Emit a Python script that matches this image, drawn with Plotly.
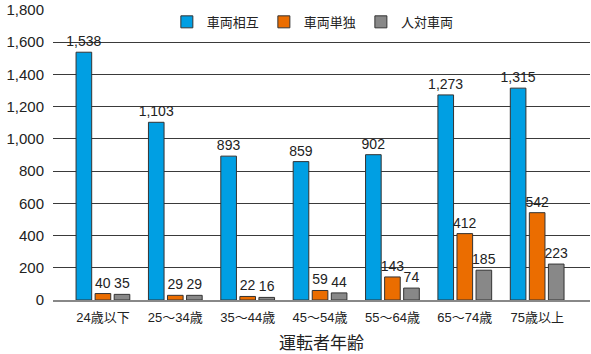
import plotly.graph_objects as go

categories = ["24歳以下", "25～34歳", "35～44歳", "45～54歳", "55～64歳", "65～74歳", "75歳以上"]
series_names = ["車両相互", "車両単独", "人対車両"]
mutual = [1538, 1103, 893, 859, 902, 1273, 1315]
single = [40, 29, 22, 59, 143, 412, 542]
pedestrian = [35, 29, 16, 44, 74, 185, 223]
colors = ["#009FE3", "#EB6D00", "#888888"]
y_ticks = [0, 200, 400, 600, 800, 1000, 1200, 1400, 1600, 1800]

FONT = "Liberation Sans, Arial, Noto Sans CJK JP"

fig = go.Figure()
for name, vals, col in zip(series_names, [mutual, single, pedestrian], colors):
    fig.add_trace(go.Bar(
        x=categories, y=vals, name=name,
        marker=dict(color=col, line=dict(color="#333333", width=1)),
        text=[f"{v:,}" for v in vals], textposition="outside",
        textfont=dict(size=14, color="#222222", family=FONT),
        constraintext="none",
        cliponaxis=False,
    ))

fig.update_layout(
    width=591, height=354,
    margin=dict(l=53, r=1, t=10, b=54),
    paper_bgcolor="white", plot_bgcolor="white",
    barmode="group", bargap=0.21, bargroupgap=0.18,
    font=dict(family=FONT, color="#222222"),
    showlegend=True,
    legend=dict(orientation="h", x=0.212, xanchor="left", y=0.959, yanchor="middle",
                font=dict(size=13, family="Noto Sans CJK JP"), bgcolor="rgba(0,0,0,0)",
                itemwidth=30, traceorder="normal"),
    xaxis=dict(range=[-0.69, 6.73], tickfont=dict(size=13, family="Liberation Sans, Noto Sans CJK JP"),
               showline=True, linecolor="#888888", linewidth=2, ticks="",
               ticklabelstandoff=4,
               title=dict(text="運転者年齢", font=dict(size=17, family="Noto Sans CJK JP"), standoff=16)),
    yaxis=dict(range=[0, 1800], tickvals=y_ticks, tickformat=",",
               tickfont=dict(size=15, family=FONT),
               showgrid=True, gridcolor="#3a3a3a", gridwidth=1, zeroline=False,
               ticks="", ticklabelstandoff=8),
)

fig.write_html("out.html")
